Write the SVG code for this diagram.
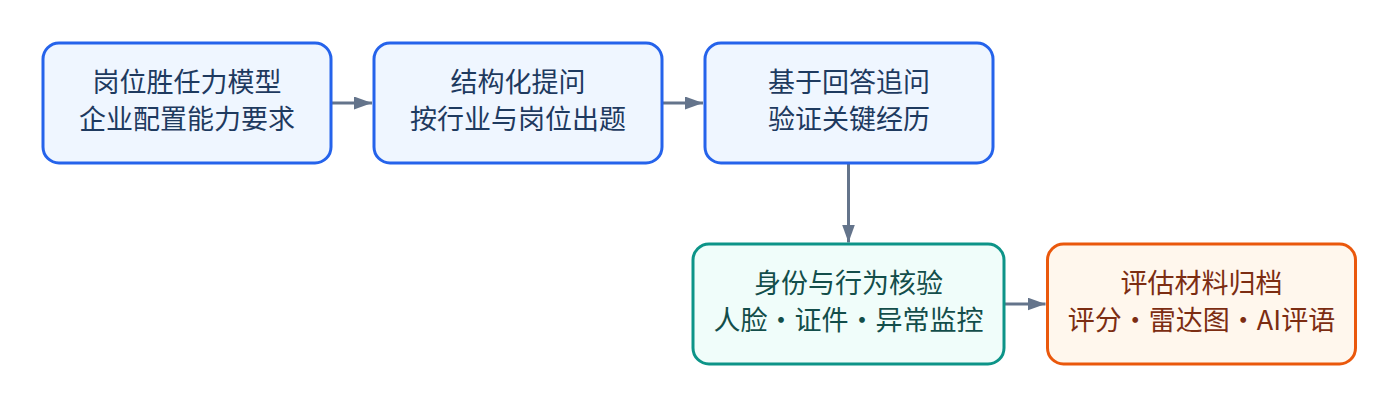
<svg xmlns="http://www.w3.org/2000/svg" width="1400" height="408" viewBox="0 0 1400 408">
<defs>
<style>
.box{stroke-width:3}
.blue{fill:#eff6ff;stroke:#2563eb}
.teal{fill:#f0fdfa;stroke:#0d9488}
.orange{fill:#fff7ed;stroke:#ea580c}
text{font-family:"Noto Sans CJK SC","Noto Sans",sans-serif;font-size:27px;text-anchor:middle;dominant-baseline:central}
.tb{fill:#1e3a5f}
.tt{fill:#134e4a}
.to{fill:#7c2d12}
.conn{stroke:#64748b;stroke-width:3;fill:none}
</style>
<marker id="arr" viewBox="0 0 18 13" refX="18" refY="6.5" markerWidth="18" markerHeight="13" markerUnits="userSpaceOnUse" orient="auto">
<path d="M0,0 L18,6.5 L0,13 Z" fill="#64748b"/>
</marker>
</defs>
<rect width="1400" height="408" fill="#ffffff"/>
<g id="connectors">
<line class="conn" x1="331" y1="103" x2="372" y2="103" marker-end="url(#arr)"/>
<line class="conn" x1="662" y1="103" x2="703" y2="103" marker-end="url(#arr)"/>
<line class="conn" x1="848.5" y1="163" x2="848.5" y2="242.5" marker-end="url(#arr)"/>
<line class="conn" x1="1004" y1="304" x2="1045.5" y2="304" marker-end="url(#arr)"/>
</g>
<g id="node1">
<rect class="box blue" x="43" y="43" width="288" height="120" rx="16"/>
<text class="tb" x="187" y="80">岗位胜任力模型</text>
<text class="tb" x="187" y="117.5">企业配置能力要求</text>
</g>
<g id="node2">
<rect class="box blue" x="374" y="43" width="288" height="120" rx="16"/>
<text class="tb" x="518" y="80">结构化提问</text>
<text class="tb" x="518" y="117.5">按行业与岗位出题</text>
</g>
<g id="node3">
<rect class="box blue" x="705" y="43" width="288" height="120" rx="16"/>
<text class="tb" x="849" y="80">基于回答追问</text>
<text class="tb" x="849" y="117.5">验证关键经历</text>
</g>
<g id="node4">
<rect class="box teal" x="693" y="244" width="311" height="120" rx="16"/>
<text class="tt" x="848.5" y="281">身份与行为核验</text>
<text class="tt" x="848.5" y="318.5">人脸·证件·异常监控</text>
</g>
<g id="node5">
<rect class="box orange" x="1047.5" y="244" width="308" height="120" rx="16"/>
<text class="to" x="1201.5" y="281">评估材料归档</text>
<text class="to" x="1201.5" y="318.5">评分·雷达图·AI评语</text>
</g>
</svg>
